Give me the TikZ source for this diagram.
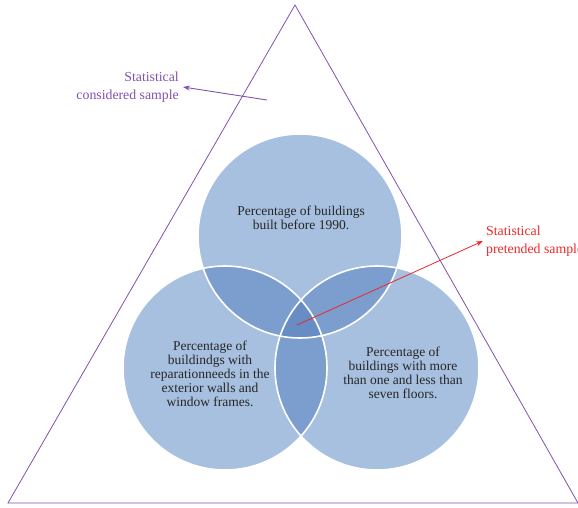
\documentclass[tikz,border=0pt]{standalone}
\usepackage{fontspec}
\setmainfont{Liberation Serif}
\usetikzlibrary{arrows.meta}
\definecolor{triline}{RGB}{130,80,175}
\definecolor{cone}{RGB}{167,192,224}
\definecolor{ctwo}{RGB}{124,158,206}
\definecolor{cthree}{RGB}{104,140,196}
\definecolor{redline}{RGB}{235,40,40}
\tikzset{
  circtext/.style={align=center,font=\fontsize{13.5}{14}\selectfont,text=black!85,inner sep=0pt},
  lbl/.style={font=\fontsize{13.8}{18}\selectfont,inner sep=0pt},
  ring/.style={draw=white,line width=1.6pt},
}
\begin{document}
\begin{tikzpicture}[x=1pt,y=-1pt]
\useasboundingbox (0,0) rectangle (578,508);
% triangle
\coordinate (apex) at (295,5);
\coordinate (bl) at (8,503);
\coordinate (br) at (578,503);
\draw[triline,line width=0.8pt] (apex) -- (bl) -- (br) -- cycle;
% circles
\def\ctop{(300,236) circle (102)}
\def\cleft{(225,368) circle (102)}
\def\cright{(377,368) circle (102)}
\fill[cone] \ctop; \fill[cone] \cleft; \fill[cone] \cright;
\begin{scope}\clip \ctop; \fill[ctwo] \cleft; \fill[ctwo] \cright;\end{scope}
\begin{scope}\clip \cleft; \fill[ctwo] \cright;\end{scope}
\begin{scope}\clip \ctop; \clip \cleft; \fill[cthree] \cright;\end{scope}
\draw[ring] \ctop; \draw[ring] \cleft; \draw[ring] \cright;
% texts
\node[circtext] (ttop) at (301,218) {Percentage of buildings\\built before 1990.};
\node[circtext] (tleft) at (210,374) {Percentage of\\buildindgs with\\reparationneeds in the\\exterior walls and\\window frames.};
\node[circtext] (tright) at (403,373) {Percentage of\\buildings with more\\than one and less than\\seven floors.};
% labels and arrows
\node[lbl,text=triline,align=right,anchor=east] (cons) at (179,87) {Statistical\\considered sample};
\coordinate (cstart) at (267,100);
\draw[triline,line width=0.9pt,-{Stealth[length=7pt,width=5pt]}] (cstart) -- ([xshift=4pt]cons.east);
\node[lbl,text=redline,align=left,anchor=west] (pret) at (486,241) {Statistical\\pretended sample};
\coordinate (rstart) at (297,325);
\draw[redline,line width=0.8pt,-{Stealth[length=7pt,width=5pt]}] (rstart) -- ([xshift=-3pt]pret.west);
\end{tikzpicture}
\end{document}
